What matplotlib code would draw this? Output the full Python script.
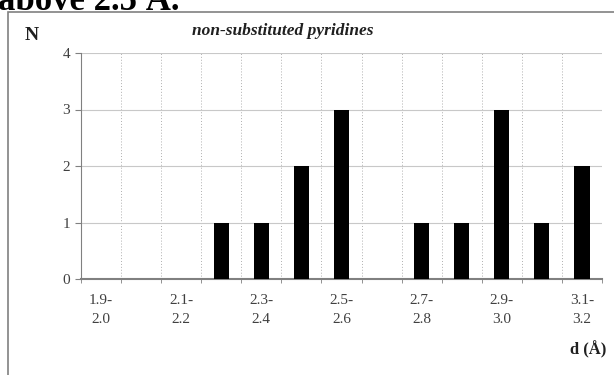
import matplotlib.pyplot as plt
from matplotlib.patches import Rectangle
from matplotlib.ticker import FixedLocator

# distance bins (Å) and counts
bins = ['1.9-\n2.0', '2.0-\n2.1', '2.1-\n2.2', '2.2-\n2.3', '2.3-\n2.4', '2.4-\n2.5', '2.5-\n2.6',
        '2.6-\n2.7', '2.7-\n2.8', '2.8-\n2.9', '2.9-\n3.0', '3.0-\n3.1', '3.1-\n3.2']
counts = [0, 0, 0, 1, 1, 2, 3, 0, 1, 1, 3, 1, 2]
shown_labels = [lab if i % 2 == 0 else '' for i, lab in enumerate(bins)]
yticks = [0, 1, 2, 3, 4]

serif = 'Liberation Serif'
W, H = 614, 375
fig = plt.figure(figsize=(W / 100, H / 100), dpi=100)

# frame box round the chart (right and bottom edges run off the picture)
fig.patches.append(Rectangle((8 / W, 1 - 395 / H), 630 / W, 383 / H, transform=fig.transFigure,
                             fill=False, edgecolor='#808080', linewidth=1.2))
# clipped document text above the chart
fig.text(-2 / W, 1 - 2 / H, 'above 2.5 Å.', family=serif, fontsize=25, fontweight='bold',
         va='center', ha='left', color='black')

ax = fig.add_axes([81 / W, 1 - 279 / H, 521 / W, 226 / H])
x = list(range(len(bins)))
ax.bar(x, counts, width=0.38, color='black', zorder=3)

ax.set_xlim(-0.5, len(bins) - 0.5)
ax.set_ylim(0, 4)
ax.set_yticks(yticks)
ax.set_xticks(x)
ax.set_xticklabels(shown_labels, family=serif, fontsize=11, color='#404040', linespacing=1.55)
ax.xaxis.set_minor_locator(FixedLocator([i - 0.5 for i in range(len(bins) + 1)]))
ax.tick_params(axis='x', which='major', length=0, pad=11)
ax.tick_params(axis='x', which='minor', length=3, color='#808080', direction='out')
ax.tick_params(axis='y', length=4, color='#808080', labelsize=11, labelcolor='#404040', pad=4)
for lab in ax.get_yticklabels():
    lab.set_family(serif)

ax.grid(axis='y', color='#c8c8c8', linewidth=0.8, zorder=0)
ax.grid(axis='x', which='minor', color='#b0b0b0', linewidth=0.7, linestyle=(0, (1, 2)), zorder=0)
for side in ['top', 'right']:
    ax.spines[side].set_visible(False)
ax.spines['left'].set_color('#808080')
ax.spines['bottom'].set_color('#808080')
ax.spines['bottom'].set_linewidth(1.5)

fig.text(283 / W, 1 - 31 / H, 'non-substituted pyridines', family=serif, fontsize=12.5,
         fontweight='bold', style='italic', ha='center', va='center', color='#202020')
fig.text(32 / W, 1 - 36 / H, 'N', family=serif, fontsize=14, fontweight='bold',
         ha='center', va='center', color='#202020')
fig.text(588 / W, 1 - 350 / H, 'd (Å)', family=serif, fontsize=12, fontweight='bold',
         ha='center', va='center', color='#202020')

fig.savefig('out.png', dpi=100)
